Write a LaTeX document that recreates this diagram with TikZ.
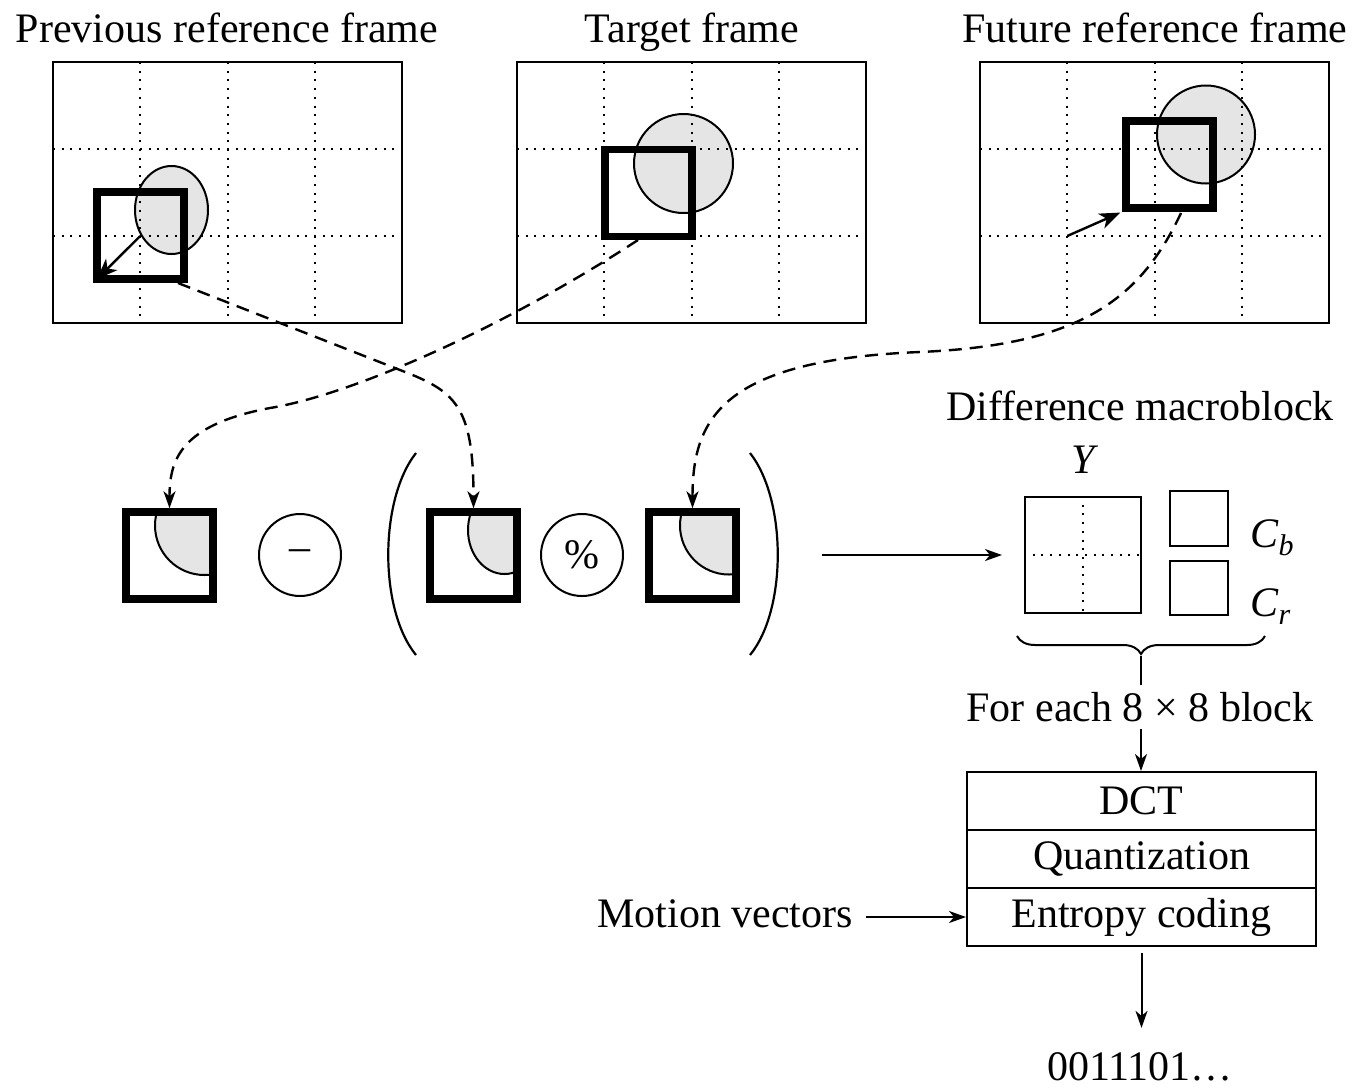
\documentclass[tikz,border=0pt]{standalone}
\usepackage{fontspec}
\setmainfont{Liberation Serif}
\usetikzlibrary{arrows.meta,decorations.pathreplacing}
\begin{document}
\begin{tikzpicture}[x=1pt,y=-1pt,
  every node/.style={font=\fontsize{42}{50}\selectfont, inner sep=0pt},
  refframe/.style={draw, line width=2.2pt, minimum width=349pt, minimum height=261pt},
  griddots/.style={line width=2pt, dash pattern=on 2pt off 6.7pt},
  mblock/.style={draw, line width=7.5pt, minimum size=87pt},
  blob/.style={fill=black!10, draw=black, line width=2pt},
  thinbox/.style={draw, line width=2pt},
  stackrow/.style={draw, line width=2pt, minimum width=349pt, minimum height=58pt},
  opcirc/.style={draw, circle, line width=2pt, minimum size=82pt},
  arr/.style={-{Stealth[length=17pt,width=12pt,inset=5pt]}, line width=2pt},
  bigarr/.style={-{Stealth[length=21pt,width=16pt,inset=6pt]}, line width=2.4pt},
  flowdash/.style={line width=2.4pt, dash pattern=on 13pt off 8pt}
]
\useasboundingbox (0,0) rectangle (1359,1088);

% ---------- titles ----------
\node[anchor=base] (t1) at (227,42) {Previous reference frame};
\node[anchor=base] (t2) at (692,42) {Target frame};
\node[anchor=base] (t3) at (1155,42) {Future reference frame};

% ---------- frame 1 ----------
\node[refframe] (f1) at (227.5,192.5) {};
\draw[blob] (171.5,210) ellipse [x radius=36.5, y radius=44];
\foreach \k in {1,2,3} \draw[griddots] (53+87.25*\k,62) -- (53+87.25*\k,323);
\foreach \r in {149,236} \draw[griddots] (53,\r) -- (402,\r);
\node[mblock] (s1) at (140.5,235.5) {};
\coordinate (m1) at (140.25,236);
\draw[bigarr, shorten >=5pt] (m1) -- (s1.south west);

% ---------- frame 2 ----------
\node[refframe] (f2) at (691.5,192.5) {};
\draw[blob] (683.5,163.5) circle [radius=49.5];
\foreach \k in {1,2,3} \draw[griddots] (517+87.25*\k,62) -- (517+87.25*\k,323);
\foreach \r in {149,236} \draw[griddots] (517,\r) -- (866,\r);
\node[mblock] (s2) at (648.5,193) {};

% ---------- frame 3 ----------
\node[refframe] (f3) at (1154.5,192.5) {};
\draw[blob] (1206,134.5) circle [radius=49];
\foreach \k in {1,2,3} \draw[griddots] (980+87.25*\k,62) -- (980+87.25*\k,323);
\foreach \r in {149,236} \draw[griddots] (980,\r) -- (1329,\r);
\node[mblock] (s3) at (1169.5,164.5) {};
\coordinate (m3) at (1067.25,236);
\draw[bigarr, shorten >=2pt] (m3) -- (s3.south west);

% ---------- middle row blocks ----------
\begin{scope}
  \clip (126,512) rectangle (213,599);
  \draw[blob] (204.5,525.5) circle [radius=49.5];
\end{scope}
\node[mblock] (b1) at (169.5,555.5) {};

\node[opcirc] (minus) at (300,555) {\textendash};

\begin{scope}
  \clip (430,512) rectangle (517,599);
  \draw[blob] (504.5,530) ellipse [x radius=36.5, y radius=44];
\end{scope}
\node[mblock] (b2) at (473.5,555.5) {};

\node[opcirc] (pct) at (582,555) {\%};

\begin{scope}
  \clip (649,512) rectangle (736,599);
  \draw[blob] (729,525.5) circle [radius=49];
\end{scope}
\node[mblock] (b3) at (692.5,555.5) {};

% parentheses
\draw[line width=2.2pt] (416,453) .. controls (379,500) and (379,610) .. (416,655);
\draw[line width=2.2pt] (750,453) .. controls (787,500) and (787,610) .. (750,655);

% ---------- dashed motion connectors ----------
\coordinate (a0) at (178,283);
\coordinate (b0) at (638,240);
\coordinate (c0) at (1181,213);
\draw[flowdash, arr, line width=2.4pt] (a0) -- (400,370) .. controls (455,391) and (473.5,405) .. (b2.north);
\draw[flowdash, arr, line width=2.4pt] (b0) .. controls (500,330) and (350,395) .. (270,408)
      .. controls (180,425) and (169.5,460) .. (b1.north);
\draw[flowdash, arr, line width=2.4pt] (c0) .. controls (1140,300) and (1080,345) .. (920,352)
      .. controls (720,360) and (692.5,420) .. (b3.north);

% ---------- difference macroblock ----------
\node[anchor=base] (dm) at (1140,420) {Difference macroblock};
\node[anchor=base] (ylab) at (1085,473) {\textit{Y}};
\node[thinbox, minimum size=116pt] (Y) at (1083,555) {};
\draw[griddots] (Y.north) -- (Y.south);
\draw[griddots] (Y.west) -- (Y.east);
\node[thinbox, minimum width=58pt, minimum height=55pt] (cb) at (1199,518.5) {};
\node[thinbox, minimum width=58pt, minimum height=54pt] (cr) at (1199,588) {};
\node[anchor=base west] (cblab) at (1250,547) {\textit{C}\raisebox{-8pt}{\fontsize{30}{30}\selectfont\textit{b}}};
\node[anchor=base west] (crlab) at (1250,616) {\textit{C}\raisebox{-8pt}{\fontsize{30}{30}\selectfont\textit{r}}};

\coordinate (ms) at (822,555);
\draw[arr, shorten >=22pt] (ms) -- (Y.west);

% brace
\draw[line width=2pt, decorate, decoration={brace, amplitude=18pt}] (1265,636) -- (1017,636);
\coordinate (bt) at (1141,656);

% ---------- coding stack ----------
\node[stackrow] (dct) at (1141.5,801) {DCT};
\node[stackrow] (qnt) at (1141.5,859) {Quantization};
\node[stackrow] (ent) at (1141.5,917) {Entropy coding};

\draw[arr] (bt) -- (bt |- dct.north);
\node[fill=white, inner sep=7pt] (fe) at (1140,707) {For each 8 × 8 block};

\node[anchor=base east] (mv) at (853,927) {Motion vectors};
\draw[arr, shorten <=13pt] (mv.east |- ent.west) -- (ent.west);

\node[anchor=base] (bits) at (1140,1080) {0011101…};
\draw[arr, shorten <=6pt, shorten >=24pt] (ent.south) -- (ent.south |- bits.north);
\end{tikzpicture}
\end{document}
